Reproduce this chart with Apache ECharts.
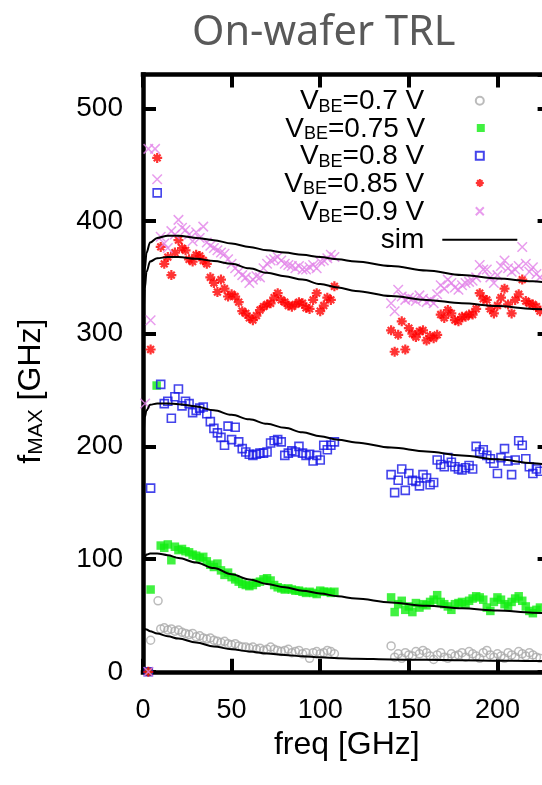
<!DOCTYPE html>
<html><head><meta charset="utf-8">
<script src="https://cdn.jsdelivr.net/npm/echarts@6/dist/echarts.min.js"></script>
<style>html,body{margin:0;padding:0;background:#fff}#c{width:542px;height:785px}</style>
</head><body><div id="c"></div>
<script>
// ---- data ----
const seriesNames = ['VBE=0.7 V', 'VBE=0.75 V', 'VBE=0.8 V', 'VBE=0.85 V', 'VBE=0.9 V'];
const freqL = [10,12,14,16,18,20,22,24,26,28,30,32,34,36,38,40,42,44,46,48,50,52,54,56,58,60,62,64,66,68,70,72,74,76,78,80,82,84,86,88,90,92,94,96,98,100,102,104,106,108];
const freqR = [140,142,144,146,148,150,152,154,156,158,160,162,164,166,168,170,172,174,176,178,180,182,184,186,188,190,192,194,196,198,200,202,204,206,208,210,212,214,216,218,220,222,224];

const grayEarly = [[4.3,28],[8.5,63]];
const grayL = [38,39,37,38,36,37,35,34,33,34,31,32,30,29,30,28,27,26,27,25,24,25,23,22,22,21,22,20,21,19,20,22,20,19,18,19,20,17,18,19,16,17,12,17,18,16,17,19,18,16];
const grayR = [23,13,16,12,17,15,14,18,16,19,17,14,11,15,17,13,12,16,14,15,17,13,18,16,14,12,17,19,15,13,16,14,12,17,15,13,18,16,14,17,15,13,12];

const greenEarly = [[3,0],[4.3,73],[7.7,254]];
const greenL = [112,110,113,99,111,108,109,107,106,104,103,101,102,98,95,93,96,90,86,88,84,82,80,78,77,76,77,79,80,82,83,81,77,75,74,73,74,73,72,72,71,70,71,70,69,72,71,71,70,71];
const greenR = [66,53,60,63,55,58,53,61,57,60,59,62,64,68,62,60,58,55,60,61,62,60,63,65,67,66,64,57,54,62,66,64,60,58,62,65,67,63,58,54,52,55,57];

const blueEarly = [[3,0],[4.3,163],[8,425]];
const blueL = [255,238,240,225,244,251,236,240,238,230,232,234,235,229,222,216,212,208,201,218,206,217,204,198,195,193,192,193,194,194,195,203,205,206,204,192,194,196,195,200,194,192,193,187,192,188,201,197,201,204];
const blueR = [175,159,170,180,161,176,170,169,165,175,172,166,168,188,184,182,190,186,182,180,179,181,183,180,200,195,197,192,189,185,176,190,198,187,175,188,205,201,189,182,176,180,178];

const redEarly = [[3,0],[4.3,286],[8,456]];
const redL = [377,362,368,352,372,383,376,374,366,364,370,369,365,362,350,345,337,348,340,333,335,333,328,320,318,314,312,316,321,324,326,327,332,336,330,328,325,324,326,328,327,323,322,330,336,320,325,332,330,342];
const redR = [303,284,299,311,286,305,300,297,302,303,294,298,296,299,317,314,321,318,312,311,315,315,317,317,322,336,331,330,322,318,325,332,340,326,318,330,335,348,329,327,326,324,320];

const violetEarly = [[1.2,238],[3,0],[3,464],[4.3,312],[6.8,464],[8,437]];
const violetL = [386,380,376,391,388,401,394,392,388,382,390,385,395,381,378,376,374,372,371,366,362,358,355,352,350,345,348,351,350,358,362,365,366,368,365,362,361,360,358,360,357,357,359,361,358,364,365,367,370,368];
const violetR = [327,320,339,333,330,332,331,329,334,331,328,330,327,335,343,340,348,345,341,339,343,345,346,347,350,361,357,357,350,345,352,360,365,358,355,357,360,377,362,355,359,353,350];

const simFreq = [0.3,1,2,4,8,14,20,30,40,50,60,70,80,90,100,110,120,140,160,180,200,220,230];
const sim07  = [38.5,38,37.5,36,34,31.5,29.5,26,22.5,20,18,16.3,15,13.7,12.8,12,11.6,11,10.6,10.2,9.9,9.6,9.5];
const sim075 = [98,102,104,105,105,103.5,101,97,92,86.5,82,78,75,72,69.5,67,65,61.5,58.5,56.3,54.3,52.5,51.8];
const sim08  = [205,226,232,237,238,238,237.5,235.5,232,228,224,220,216.5,212.5,209,206,203.5,199,195.5,192,188.5,185,183.5];
const sim085 = [310,340,355,364,367,368,368,366.5,364.5,362,358,354,351,348,344,341,338,333.5,330,327,324.5,322,321];
const sim09  = [330,357,372,381,385,387,387,385,383,380,377,374,372,370,368,366,364,360,356,352,349,346.5,345];

const xTicks = [0,50,100,150,200];
const yTicks = [0,100,200,300,400,500];

// ---- chart ----
function pairs(xs, ys) { return xs.map((x, i) => [x, ys[i]]); }
const FONT = '"Liberation Sans", Arial, sans-serif';
const chart = echarts.init(document.getElementById('c'), null, {renderer: 'canvas'});

const X_SYM = 'path://M0,0L10,10M10,0L0,10';
const STAR_SYM = 'path://M5,0L5,10M0,5L10,5M1.6,1.6L8.4,8.4M8.4,1.6L1.6,8.4';
const SQ_SYM = 'path://M0,0L10,0L10,10L0,10Z';

function legendFmt(name) {
  if (name === 'sim') return '{v|sim}';
  return '{v|V}{s|BE}{v|' + name.slice(3) + '}';
}
const legendRich = {
  v: {fontFamily: FONT, fontSize: 28, color: '#000', lineHeight: 30, verticalAlign: 'bottom'},
  s: {fontFamily: FONT, fontSize: 18, color: '#000', lineHeight: 14, verticalAlign: 'bottom'}
};
const legendRows = seriesNames.concat(['sim']);
const legendCenters = [102.7, 130, 157.7, 185, 213.3, 241.7];
const legends = legendRows.map((nm, i) => ({
  orient: 'horizontal', align: 'right', right: nm === 'sim' ? 23.7 : 57.2, top: legendCenters[i] - 15, padding: 0,
  itemWidth: 75, itemHeight: 8, selectedMode: false,
  data: [nm === 'sim' ? {name: 'sim', itemStyle: {color: 'rgba(0,0,0,0)'}} : nm],
  formatter: legendFmt,
  textStyle: {padding: [0, 13, 0, 0], rich: legendRich}
}));

const axisCommon = {
  type: 'value',
  axisLine: {show: true, onZero: false, lineStyle: {color: '#000', width: 4.5, cap: 'square'}},
  axisTick: {show: true, inside: true, length: 13, lineStyle: {color: '#000', width: 4}},
  splitLine: {show: false}
};

const scatterBase = {type: 'scatter', z: 2, emphasis: {disabled: true}};
const simBase = {type: 'line', name: 'sim', showSymbol: false, symbol: 'none', smooth: 0.35, smoothMonotone: 'x',
  lineStyle: {color: '#000', width: 2}, itemStyle: {color: '#000'}, z: 5, emphasis: {disabled: true}};

chart.setOption({
  animation: false,
  backgroundColor: '#fff',
  title: {
    text: 'On-wafer TRL', left: 187, top: 7,
    textStyle: {fontFamily: '"Noto Sans", sans-serif', fontSize: 41.5, fontWeight: 'normal', color: '#595959'}
  },
  grid: {left: 143, top: 74.5, width: 407.6, height: 597.3, outerBoundsMode: 'none', containLabel: false},
  legend: legends,
  xAxis: [
    Object.assign({}, axisCommon, {
      min: 0, max: 230, interval: 50, position: 'bottom',
      name: 'freq [GHz]', nameLocation: 'middle', nameGap: 48,
      nameTextStyle: {fontFamily: FONT, fontSize: 32, color: '#000'},
      axisLabel: {show: true, margin: 25, fontFamily: FONT, fontSize: 27, color: '#000', showMaxLabel: false,
        formatter: v => (xTicks.indexOf(v) >= 0 ? String(v) : '')}
    }),
    Object.assign({}, axisCommon, {min: 0, max: 230, interval: 50, position: 'top', axisLabel: {show: false}})
  ],
  yAxis: [
    Object.assign({}, axisCommon, {
      min: 0, max: 530, interval: 100, position: 'left',
      name: '{f|f}{s|MAX}{f| [GHz]}', nameLocation: 'middle', nameGap: 96, nameRotate: 90,
      nameTextStyle: {padding: [0, 36, 0, 0], rich: {
        f: {fontFamily: FONT, fontSize: 32, color: '#000', lineHeight: 34, verticalAlign: 'bottom'},
        s: {fontFamily: FONT, fontSize: 21, color: '#000', lineHeight: 16, verticalAlign: 'bottom'}
      }},
      axisLabel: {show: true, margin: 20, fontFamily: FONT, fontSize: 28, color: '#000', showMaxLabel: false,
        formatter: v => (yTicks.indexOf(v) >= 0 ? String(v) : '')}
    }),
    Object.assign({}, axisCommon, {min: 0, max: 530, interval: 100, position: 'right', axisLabel: {show: false}})
  ],
  series: [
    Object.assign({}, scatterBase, {name: seriesNames[0], symbol: 'circle', symbolSize: 8,
      itemStyle: {color: 'rgba(255,255,255,0)', borderColor: '#aaaaaa', borderWidth: 1.5},
      data: grayEarly.concat(pairs(freqL, grayL), pairs(freqR, grayR))}),
    Object.assign({}, scatterBase, {name: seriesNames[1], symbol: SQ_SYM, symbolSize: 8.5,
      itemStyle: {color: '#11ee11'},
      data: greenEarly.concat(pairs(freqL, greenL), pairs(freqR, greenR))}),
    Object.assign({}, scatterBase, {name: seriesNames[2], symbol: SQ_SYM, symbolSize: 8,
      itemStyle: {color: 'rgba(255,255,255,0)', borderColor: '#1515e6', borderWidth: 1.6},
      data: blueEarly.concat(pairs(freqL, blueL), pairs(freqR, blueR))}),
    Object.assign({}, scatterBase, {name: seriesNames[3], symbol: STAR_SYM, symbolSize: 10,
      itemStyle: {color: 'rgba(255,0,0,0)', borderColor: '#ff0000', borderWidth: 2.2},
      data: redEarly.concat(pairs(freqL, redL), pairs(freqR, redR))}),
    Object.assign({}, scatterBase, {name: seriesNames[4], symbol: X_SYM, symbolSize: 9.5,
      itemStyle: {color: 'rgba(0,0,0,0)', borderColor: '#e283e8', borderWidth: 1.5},
      data: violetEarly.concat(pairs(freqL, violetL), pairs(freqR, violetR))}),
    Object.assign({}, simBase, {data: pairs(simFreq, sim07)}),
    Object.assign({}, simBase, {data: pairs(simFreq, sim075)}),
    Object.assign({}, simBase, {data: pairs(simFreq, sim08)}),
    Object.assign({}, simBase, {data: pairs(simFreq, sim085)}),
    Object.assign({}, simBase, {data: pairs(simFreq, sim09)})
  ]
});
</script></body></html>
